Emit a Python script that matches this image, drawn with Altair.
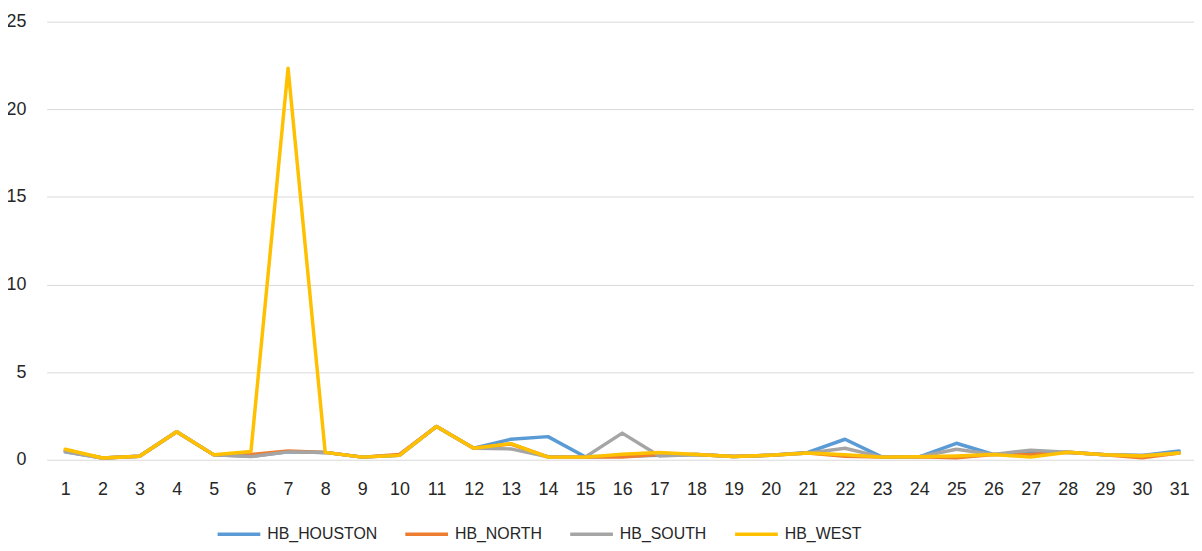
import altair as alt
import pandas as pd

days = list(range(1, 32))
houston = [0.45, 0.1, 0.2, 1.6, 0.28, 0.2, 0.45, 0.42, 0.15, 0.25, 1.9, 0.66, 1.17, 1.32, 0.17, 0.2,
           0.25, 0.3, 0.18, 0.26, 0.42, 1.17, 0.15, 0.17, 0.94, 0.3, 0.35, 0.43, 0.28, 0.25, 0.5]
north = [0.55, 0.1, 0.2, 1.6, 0.28, 0.3, 0.5, 0.42, 0.15, 0.3, 1.9, 0.66, 0.9, 0.17, 0.15, 0.15,
         0.3, 0.3, 0.18, 0.26, 0.38, 0.2, 0.15, 0.17, 0.12, 0.3, 0.3, 0.43, 0.28, 0.12, 0.38]
south = [0.45, 0.1, 0.2, 1.6, 0.28, 0.18, 0.45, 0.42, 0.15, 0.25, 1.9, 0.66, 0.62, 0.17, 0.15, 1.52,
         0.22, 0.3, 0.18, 0.26, 0.38, 0.66, 0.15, 0.17, 0.6, 0.3, 0.55, 0.43, 0.28, 0.25, 0.38]
west = [0.6, 0.1, 0.2, 1.6, 0.28, 0.47, 22.35, 0.42, 0.15, 0.25, 1.9, 0.66, 0.92, 0.15, 0.15, 0.32,
        0.42, 0.3, 0.18, 0.26, 0.38, 0.28, 0.15, 0.17, 0.22, 0.3, 0.15, 0.43, 0.28, 0.22, 0.38]

series_names = ["HB_HOUSTON", "HB_NORTH", "HB_SOUTH", "HB_WEST"]
series_colors = ["#5B9BD5", "#ED7D31", "#A5A5A5", "#FFC000"]
y_ticks = [0, 5, 10, 15, 20, 25]

rows = []
for name, vals in zip(series_names, [houston, north, south, west]):
    for d, v in zip(days, vals):
        rows.append({"day": d, "value": v, "series": name})
df = pd.DataFrame(rows)

FONT = "Liberation Sans"
TXT = "#262626"

chart = alt.Chart(df).mark_line(strokeWidth=3.5, strokeCap="round", strokeJoin="round").encode(
    x=alt.X("day:Q", scale=alt.Scale(domain=[0.5, 31.4], nice=False, zero=False),
            axis=alt.Axis(values=days, format="d", title=None, grid=False, domain=False,
                          ticks=False, tickSize=0, labelPadding=21, labelFontSize=18,
                          labelFont=FONT, labelColor=TXT, labelFlush=False, labelOverlap=False)),
    y=alt.Y("value:Q", scale=alt.Scale(domain=[0, 25], nice=False),
            axis=alt.Axis(values=y_ticks, title=None, grid=True, gridColor="#D9D9D9", gridWidth=1,
                          domain=False, ticks=False, tickSize=0, labelPadding=21, labelFontSize=18,
                          labelFont=FONT, labelColor=TXT)),
    color=alt.Color("series:N", scale=alt.Scale(domain=series_names, range=series_colors),
                    legend=alt.Legend(title=None, orient="none", direction="horizontal",
                                      legendX=169, legendY=508, symbolType="M-1,0H7.6",
                                      symbolSize=100, symbolStrokeWidth=3.5, labelOffset=37,
                                      columnPadding=21, labelFontSize=16, labelFont=FONT,
                                      labelColor=TXT)),
).properties(
    width=1155, height=441,
    autosize=alt.AutoSizeParams(type="none"),
    padding={"left": 39, "top": 12, "right": 0, "bottom": 82},
).configure_view(stroke=None)

chart.save("out.html", embed_options={"renderer": "svg", "actions": False})
